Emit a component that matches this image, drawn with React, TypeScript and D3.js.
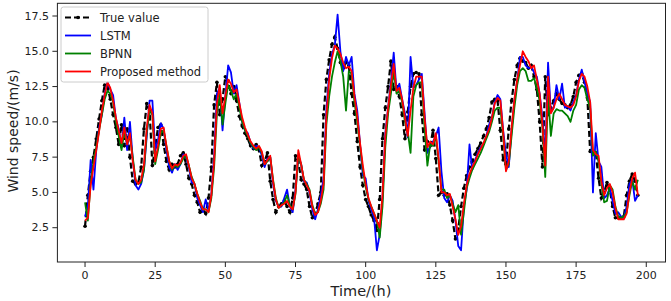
import React from "react";
import * as d3 from "d3";

const trueValue = [
  2.6, 4.8, 6.5, 7.5, 8.8, 10.2, 11.5, 12.6, 12.5, 11.6,
  10.5, 9.6, 8.4, 9.8, 8.3, 9.5, 7.5, 5.8, 5.6, 5.7,
  6.8, 9.5, 11.3, 10.8, 6.9, 8.2, 9.6, 9.8, 8.4, 7.2,
  6.6, 7.0, 6.8, 7.0, 7.6, 7.8, 7.0, 6.0, 5.6, 4.8,
  4.3, 3.6, 3.8, 3.5, 4.6, 6.8, 11.2, 12.8, 10.5, 11.6,
  13.2, 12.9, 12.0, 12.5, 11.5, 10.4, 9.7, 9.2, 8.8, 8.3,
  8.1, 8.4, 8.0, 6.9, 7.2, 7.8, 5.8, 4.5, 3.6, 4.0,
  4.2, 4.4, 4.0, 3.6, 4.6, 7.6, 7.2, 5.9, 5.6, 5.2,
  4.0, 3.2, 3.5, 4.2, 5.0, 10.5, 13.0, 14.4, 15.5, 16.0,
  15.2, 14.2, 13.8, 14.2, 14.0, 12.0, 10.6, 8.6, 6.8, 5.5,
  4.5, 4.0, 3.4, 3.0, 2.3, 4.5, 8.8, 11.0, 12.5, 14.3,
  12.3, 12.5, 11.8, 10.5, 8.8, 10.7, 12.5, 13.4, 13.5, 13.4,
  10.5, 8.0, 8.6, 8.3, 9.4, 7.4, 4.8, 5.0, 4.8, 4.9,
  4.1, 3.0, 1.7, 2.4, 4.0, 5.3, 6.2, 6.8, 7.2, 7.7,
  8.1, 8.5, 9.0, 9.5, 10.3, 11.4, 11.6, 11.5, 9.4, 7.3,
  7.0, 9.5, 11.5, 13.0, 14.0, 14.5, 14.3, 14.2, 13.8, 14.0,
  13.2, 12.3, 10.0, 6.8, 13.2, 10.5, 11.0, 11.5, 12.0, 11.6,
  11.3, 11.2, 11.0, 11.2, 11.8, 12.8, 13.3, 13.4, 12.8, 11.7,
  7.9, 7.8, 7.8, 6.0, 4.6, 5.0, 5.7, 5.2, 4.0, 3.2,
  3.2, 3.2, 3.3, 4.8, 5.8, 6.3, 5.8, 4.8,
];

const lstm = [
  3.3, 4.0, 7.3, 5.2, 8.0, 9.6, 10.5, 12.0, 12.8, 12.3,
  11.9, 10.2, 9.5, 8.2, 10.3, 8.0, 10.0, 7.4, 5.5, 5.2,
  5.6, 6.6, 9.0, 11.5, 11.5, 8.0, 8.7, 9.9, 9.5, 8.0,
  6.8, 6.4, 7.0, 6.6, 7.0, 7.7, 7.5, 6.8, 5.7, 5.6,
  4.6, 4.1, 3.6, 4.5, 3.7, 4.8, 7.6, 12.0, 12.4, 9.4,
  11.8, 14.0, 13.5, 12.0, 12.6, 11.3, 10.0, 9.4, 9.2, 8.5,
  8.1, 8.3, 8.2, 7.6, 6.8, 7.4, 7.5, 5.6, 4.4, 4.0,
  4.0, 4.6, 5.2, 4.0, 3.6, 5.2, 7.6, 7.0, 5.8, 5.7,
  5.0, 3.8, 3.1, 3.8, 4.8, 6.0, 10.9, 13.4, 14.8, 15.4,
  17.6, 15.0, 13.6, 14.6, 14.0, 14.6, 12.0, 10.8, 8.4, 6.2,
  6.0, 4.4, 3.8, 3.2, 0.9, 2.0, 4.6, 9.2, 11.0, 12.8,
  14.9, 12.2, 12.7, 11.6, 10.6, 8.9, 14.6, 12.4, 12.6, 13.0,
  13.4, 10.6, 7.8, 8.3, 8.6, 9.0, 9.6, 6.5, 4.6, 4.3,
  4.8, 4.4, 3.0, 1.2, 0.9, 4.0, 5.2, 8.4, 6.6, 7.3,
  7.8, 8.2, 8.4, 9.0, 9.8, 10.3, 11.4, 11.9, 11.6, 9.4,
  7.7, 6.8, 9.4, 11.5, 12.9, 14.6, 14.6, 14.0, 13.8, 13.9,
  13.5, 13.2, 12.0, 10.3, 7.5, 14.2, 10.7, 11.0, 12.6, 11.6,
  12.7, 11.0, 11.1, 10.8, 11.4, 11.9, 13.0, 13.7, 12.8, 12.0,
  11.4, 5.0, 9.2, 7.2, 6.8, 4.6, 4.8, 5.3, 4.4, 3.5,
  3.6, 3.3, 3.2, 4.0, 5.6, 5.9, 4.4, 4.8,
];

const bpnn = [
  4.3, 3.0, 5.7, 7.2, 8.2, 9.4, 10.5, 11.6, 12.2, 12.0,
  11.4, 10.0, 9.0, 8.0, 9.3, 8.5, 9.0, 7.5, 5.9, 5.6,
  5.7, 6.6, 9.3, 10.8, 10.5, 7.0, 8.0, 9.2, 9.4, 8.3,
  7.2, 6.6, 6.9, 6.8, 7.0, 7.4, 7.6, 6.9, 6.1, 5.6,
  4.9, 4.4, 3.8, 3.8, 3.6, 4.6, 6.8, 10.6, 12.0, 9.8,
  11.3, 12.6, 12.2, 11.6, 12.0, 11.0, 10.0, 9.4, 9.0, 8.5,
  8.2, 8.0, 8.2, 7.8, 7.0, 7.2, 7.5, 5.9, 4.6, 3.9,
  4.1, 4.3, 4.8, 4.1, 3.8, 4.9, 7.6, 7.0, 5.9, 5.6,
  5.2, 4.1, 3.5, 3.6, 4.2, 5.2, 9.8, 11.8, 13.2, 14.2,
  15.0, 14.3, 13.2, 10.8, 13.6, 13.4, 11.4, 10.0, 8.3, 6.6,
  5.4, 4.5, 4.0, 3.5, 3.0, 1.8, 4.0, 8.2, 10.6, 12.0,
  13.6, 12.0, 12.2, 11.4, 10.0, 9.3, 7.8, 11.8, 12.6, 12.8,
  12.8, 9.6, 6.9, 8.4, 8.3, 9.0, 7.2, 5.2, 5.2, 4.6,
  4.8, 4.2, 3.6, 4.1, 2.0, 3.6, 5.3, 6.0, 6.6, 7.0,
  7.4, 7.8, 8.3, 8.8, 9.3, 10.0, 10.8, 11.0, 11.0, 9.0,
  6.6, 7.0, 9.0, 11.0, 12.6, 13.6, 13.8, 13.6, 12.9, 12.9,
  13.1, 12.4, 11.5, 9.6, 6.1, 12.0, 9.0, 10.6, 10.9, 10.8,
  10.8, 10.6, 10.4, 10.0, 10.8, 11.2, 12.3, 12.6, 12.4, 11.6,
  11.0, 7.6, 7.9, 7.2, 5.6, 4.3, 4.4, 5.5, 5.2, 4.0,
  3.3, 3.2, 3.3, 3.6, 4.8, 5.8, 5.2, 5.9,
];

const proposed = [
  3.0, 3.2, 5.5, 6.8, 8.0, 9.3, 10.8, 11.9, 12.8, 12.4,
  11.5, 10.3, 9.4, 8.5, 9.6, 8.4, 9.2, 7.2, 5.9, 5.6,
  5.9, 7.0, 9.6, 11.2, 10.6, 7.2, 8.3, 9.5, 9.6, 8.3,
  7.2, 6.7, 7.0, 6.9, 7.1, 7.6, 7.7, 6.9, 6.0, 5.6,
  4.9, 4.3, 3.8, 3.8, 3.6, 4.8, 7.2, 11.3, 12.6, 10.6,
  11.8, 13.0, 12.7, 12.1, 12.3, 11.3, 10.3, 9.6, 9.1, 8.6,
  8.3, 8.1, 8.3, 7.9, 7.0, 7.3, 7.6, 5.8, 4.5, 3.9,
  4.1, 4.2, 4.4, 4.0, 3.8, 5.0, 8.0, 7.0, 5.9, 5.5,
  5.1, 4.0, 3.4, 3.6, 4.4, 5.6, 10.4, 13.0, 14.5, 15.4,
  15.2, 14.8, 14.2, 13.8, 13.9, 13.6, 11.8, 10.4, 8.5, 6.9,
  5.6, 4.6, 4.0, 3.5, 3.0, 2.5, 4.8, 9.0, 11.0, 12.6,
  14.1, 12.2, 12.4, 11.6, 10.3, 9.0, 10.8, 12.4, 13.2, 13.2,
  13.2, 10.3, 8.2, 8.6, 8.4, 9.2, 7.4, 5.0, 5.0, 4.8,
  4.9, 4.0, 3.1, 2.0, 2.6, 4.2, 5.5, 6.3, 6.8, 7.2,
  7.7, 8.1, 8.5, 9.0, 9.5, 10.3, 11.3, 11.7, 11.5, 9.3,
  6.5, 7.2, 9.6, 11.6, 13.0, 14.0, 15.0, 14.6, 14.3, 13.8,
  14.0, 13.0, 12.0, 9.8, 6.9, 13.2, 10.6, 11.0, 11.6, 12.0,
  11.6, 11.2, 11.1, 11.0, 11.2, 11.8, 12.9, 13.4, 13.2, 12.5,
  11.4, 8.0, 7.7, 7.6, 5.8, 4.8, 5.3, 5.6, 5.0, 3.9,
  3.1, 3.1, 3.1, 3.5, 5.0, 6.0, 6.4, 4.8,
];

const xTicks = [0, 25, 50, 75, 100, 125, 150, 175, 200];
const yTicks = [2.5, 5.0, 7.5, 10.0, 12.5, 15.0, 17.5];

const W = 671;
const H = 301;
const left = 57.4;
const right = 665.5;
const top = 3.3;
const bottom = 262;

export default function App() {
  const x = d3.scaleLinear().domain([-9.85, 206.85]).range([left, right]);
  const y = d3.scaleLinear().domain([0.07, 18.4]).range([bottom, top]);
  const line = d3
    .line<number>()
    .x((_, i) => x(i))
    .y((d) => y(d));

  const series = [
    { name: "LSTM", data: lstm, color: "#0000ff" },
    { name: "BPNN", data: bpnn, color: "#008000" },
    { name: "Proposed method", data: proposed, color: "#ff0000" },
  ];
  const font = "DejaVu Sans, sans-serif";

  const legendItems = [
    { name: "True value", color: "#000", dashed: true },
    { name: "LSTM", color: "#0000ff", dashed: false },
    { name: "BPNN", color: "#008000", dashed: false },
    { name: "Proposed method", color: "#ff0000", dashed: false },
  ];

  return (
    <svg
      width={W}
      height={H}
      style={{ position: "absolute", left: 0, top: 0, background: "#fff" }}
      fontFamily={font}
    >
      <defs>
        <clipPath id="plot">
          <rect x={left} y={top} width={right - left} height={bottom - top} />
        </clipPath>
      </defs>
      <g clipPath="url(#plot)">
        <path
          d={line(trueValue) || ""}
          fill="none"
          stroke="#000"
          strokeWidth={2.2}
          strokeDasharray="6,3"
        />
        {trueValue.map((d, i) => (
          <circle key={i} cx={x(i)} cy={y(d)} r={1.8} fill="#000" />
        ))}
        {series.map((s) => (
          <path
            key={s.name}
            d={line(s.data) || ""}
            fill="none"
            stroke={s.color}
            strokeWidth={1.8}
            strokeLinejoin="round"
          />
        ))}
      </g>
      <rect
        x={left}
        y={top}
        width={right - left}
        height={bottom - top}
        fill="none"
        stroke="#222"
        strokeWidth={1}
      />
      {xTicks.map((t) => (
        <g key={t}>
          <line x1={x(t)} x2={x(t)} y1={bottom} y2={bottom + 5} stroke="#222" />
          <text x={x(t)} y={bottom + 17} fontSize={11} textAnchor="middle" fill="#222">
            {t}
          </text>
        </g>
      ))}
      {yTicks.map((t) => (
        <g key={t}>
          <line x1={left - 5} x2={left} y1={y(t)} y2={y(t)} stroke="#222" />
          <text
            x={left - 8.5}
            y={y(t)}
            fontSize={11}
            textAnchor="end"
            dominantBaseline="central"
            fill="#222"
          >
            {t.toFixed(1)}
          </text>
        </g>
      ))}
      <text x={361} y={296} fontSize={14.5} textAnchor="middle" fill="#222">
        Time/(h)
      </text>
      <text
        transform={`translate(12.5,131) rotate(-90)`}
        fontSize={14}
        textAnchor="middle"
        dominantBaseline="central"
        fill="#222"
      >
        Wind speed/(m/s)
      </text>
      <g>
        <rect
          x={61}
          y={7}
          width={147}
          height={75}
          rx={2.5}
          fill="#fff"
          fillOpacity={0.8}
          stroke="#ccc"
          strokeWidth={1}
        />
        {legendItems.map((it, i) => {
          const ly = 17.5 + i * 18;
          return (
            <g key={it.name}>
              <line
                x1={65}
                x2={91}
                y1={ly}
                y2={ly}
                stroke={it.color}
                strokeWidth={it.dashed ? 2.2 : 1.8}
                strokeDasharray={it.dashed ? "6,3" : undefined}
              />
              {it.dashed && <circle cx={78} cy={ly} r={1.8} fill="#000" />}
              <text x={100} y={ly} fontSize={11.5} dominantBaseline="central" fill="#222">
                {it.name}
              </text>
            </g>
          );
        })}
      </g>
    </svg>
  );
}
